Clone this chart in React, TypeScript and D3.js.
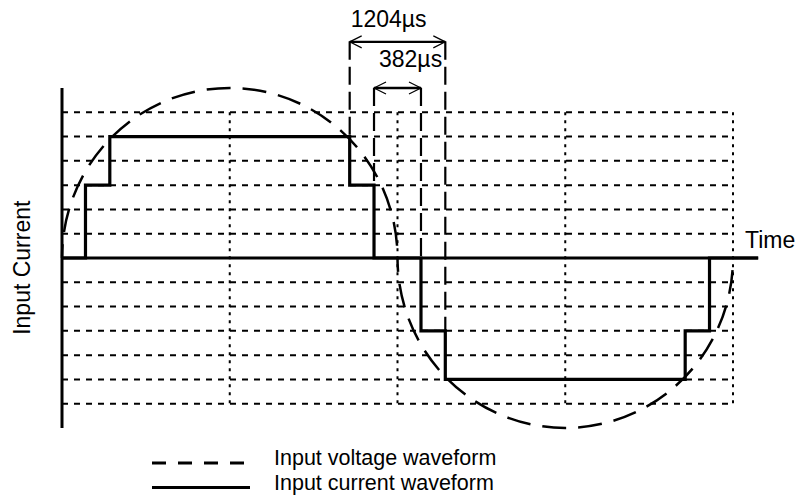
import React, { useRef, useEffect } from 'react';
import * as d3 from 'd3';

// time in grid divisions, current / voltage in grid rows
const gridTimes = [1, 2, 3, 4];
const gridLevels = [-6, -5, -4, -3, -2, -1, 1, 2, 3, 4, 5, 6];

// input voltage: two half cycles, peak 7 rows
const voltageHalves = [
  { start: 0, end: 2, peak: 7 },
  { start: 2, end: 4, peak: -7 },
];

// input current: stepped waveform
const currentTimes = [0, 0.14, 0.285, 1.715, 1.86, 2.14, 2.285, 3.715, 3.86, 4.15];
const currentLevels = [0, 3, 5, 3, 0, -3, -5, -3, 0, 0];

// dimension marks
const dims = [
  { label: '1204µs', from: 1.715, to: 2.285, level: 8.9, leftEnd: 5, rightEnd: -3, labelShift: 1, labelLevel: 9.5 },
  { label: '382µs', from: 1.86, to: 2.14, level: 7, leftEnd: 3, rightEnd: 0, labelShift: 5, labelLevel: 7.85 },
];

const legendItems = [
  { label: 'Input voltage waveform', dashed: true },
  { label: 'Input current waveform', dashed: false },
];

const FONT = "'Liberation Sans', Arial, sans-serif";
const FS = 23;

const App = () => {
  const chartRef = useRef<SVGSVGElement>(null);

  useEffect(() => {
    const width = 797;
    const height = 495;

    const svg = d3.select(chartRef.current);
    svg.selectAll('*').remove();
    svg.attr('width', width).attr('height', height);

    const x = d3.scaleLinear().domain([0, 4]).range([62, 733]);
    const y = d3.scaleLinear().domain([-7, 7]).range([428, 88]);

    // grid
    svg.append('g')
      .selectAll('line')
      .data(gridLevels)
      .join('line')
      .attr('x1', x(0)).attr('x2', x(4))
      .attr('y1', d => y(d)).attr('y2', d => y(d))
      .attr('stroke', '#000')
      .attr('stroke-width', 2)
      .attr('stroke-dasharray', '6,6');

    svg.append('g')
      .selectAll('line')
      .data(gridTimes)
      .join('line')
      .attr('x1', d => x(d)).attr('x2', d => x(d))
      .attr('y1', y(6)).attr('y2', y(-6))
      .attr('stroke', '#000')
      .attr('stroke-width', 2)
      .attr('stroke-dasharray', '3,5');

    // voltage (dashed half ellipses)
    svg.append('g')
      .selectAll('path')
      .data(voltageHalves)
      .join('path')
      .attr('d', d => {
        const rx = (x(d.end) - x(d.start)) / 2;
        const ry = Math.abs(y(d.peak) - y(0));
        return `M${x(d.start)},${y(0)} A${rx},${ry} 0 0 ${d.peak > 0 ? 1 : 0} ${x(d.end)},${y(0)}`;
      })
      .attr('fill', 'none')
      .attr('stroke', '#000')
      .attr('stroke-width', 2.5)
      .attr('stroke-dasharray', '24,12')
      .attr('stroke-dashoffset', -26);

    // axes
    svg.append('line')
      .attr('x1', x(0)).attr('x2', x(0))
      .attr('y1', y(7)).attr('y2', y(-7))
      .attr('stroke', '#000').attr('stroke-width', 3);
    svg.append('line')
      .attr('x1', x(0)).attr('x2', x(4.15))
      .attr('y1', y(0)).attr('y2', y(0))
      .attr('stroke', '#000').attr('stroke-width', 3);

    // current
    const line = d3.line<number>()
      .x((d, i) => x(currentTimes[i]))
      .y(d => y(d))
      .curve(d3.curveStepAfter);
    svg.append('path')
      .attr('d', line(currentLevels))
      .attr('fill', 'none')
      .attr('stroke', '#000')
      .attr('stroke-width', 3.2);

    // dimension marks
    const dimG = svg.append('g');
    dims.forEach(dm => {
      [[dm.from, dm.leftEnd], [dm.to, dm.rightEnd]].forEach(([t, end]) => {
        dimG.append('line')
          .attr('x1', x(t)).attr('x2', x(t))
          .attr('y1', y(dm.level)).attr('y2', y(end))
          .attr('stroke', '#000').attr('stroke-width', 2.2)
          .attr('stroke-dasharray', '18,7');
      });
      const yy = y(dm.level);
      const x1 = x(dm.from);
      const x2 = x(dm.to);
      dimG.append('line')
        .attr('x1', x1).attr('x2', x2).attr('y1', yy).attr('y2', yy)
        .attr('stroke', '#000').attr('stroke-width', 2.4);
      dimG.append('path')
        .attr('d', `M${x1 + 12},${yy - 6} L${x1},${yy} L${x1 + 12},${yy + 6} M${x2 - 12},${yy - 6} L${x2},${yy} L${x2 - 12},${yy + 6}`)
        .attr('fill', 'none').attr('stroke', '#000').attr('stroke-width', 1.2);
      dimG.append('text')
        .attr('x', x1 + dm.labelShift)
        .attr('y', y(dm.labelLevel))
        .attr('font-family', FONT)
        .attr('font-size', FS)
        .attr('fill', '#000')
        .text(dm.label);
    });

    // axis labels
    svg.append('text')
      .attr('x', 745).attr('y', 248)
      .attr('font-family', FONT).attr('font-size', FS).attr('fill', '#000')
      .text('Time');
    svg.append('text')
      .attr('transform', `translate(30,${y(-0.4)}) rotate(-90)`)
      .attr('text-anchor', 'middle')
      .attr('font-family', FONT).attr('font-size', FS).attr('fill', '#000')
      .text('Input Current');

    // legend
    const lg = svg.append('g')
      .selectAll('g')
      .data(legendItems)
      .join('g')
      .attr('transform', (d, i) => `translate(0,${463 + i * 24.5})`);
    lg.append('line')
      .attr('x1', 152).attr('x2', 250)
      .attr('stroke', '#000').attr('stroke-width', 3)
      .attr('stroke-dasharray', d => (d.dashed ? '14,12' : null));
    lg.append('text')
      .attr('x', 274).attr('y', 2)
      .attr('font-family', FONT).attr('font-size', 21.5).attr('fill', '#000')
      .text(d => d.label);
  }, []);

  return (
    <div style={{ position: 'absolute', left: 0, top: 0 }}>
      <svg ref={chartRef} style={{ display: 'block' }}></svg>
    </div>
  );
};

export default App;
